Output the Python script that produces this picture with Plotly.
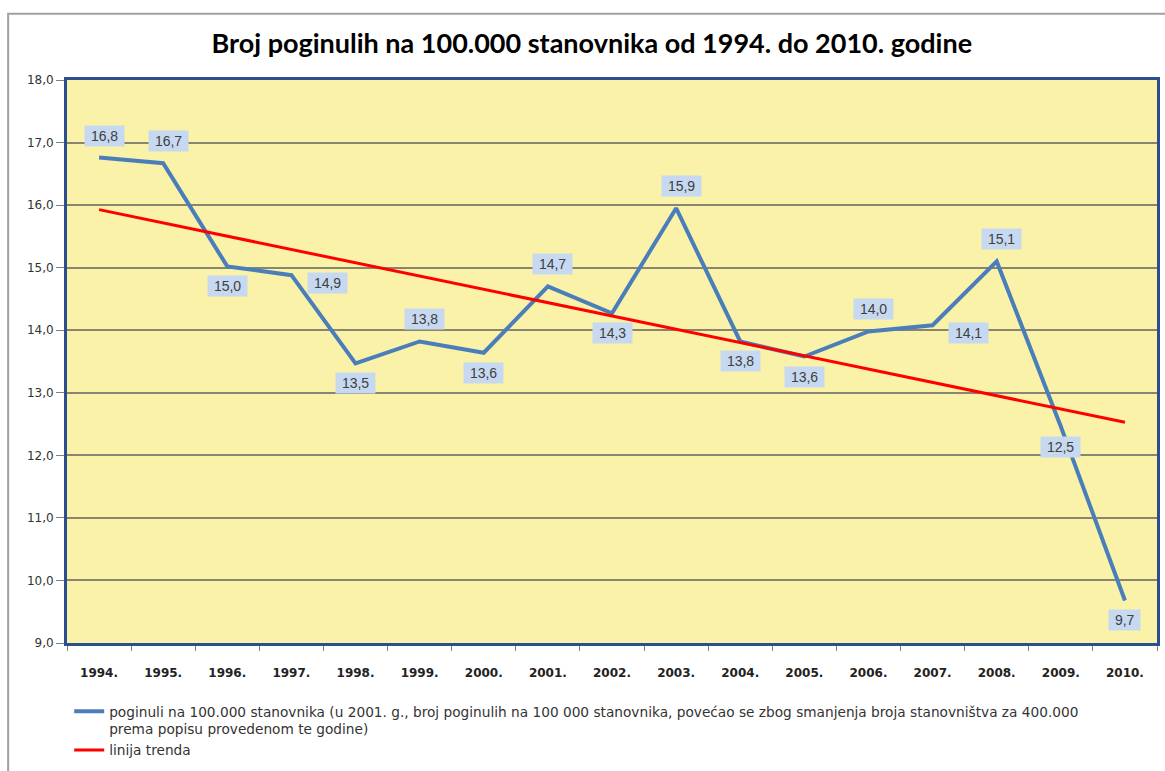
import numpy as np
import plotly.graph_objects as go

years = ["1994.", "1995.", "1996.", "1997.", "1998.", "1999.", "2000.", "2001.", "2002.",
         "2003.", "2004.", "2005.", "2006.", "2007.", "2008.", "2009.", "2010."]
values = [16.76, 16.67, 15.02, 14.88, 13.47, 13.82, 13.64, 14.70, 14.27,
          15.95, 13.82, 13.58, 13.98, 14.08, 15.10, 12.46, 9.68]
label_pos = ["top", "top", "bottom", "right", "bottom", "top", "bottom", "top", "bottom",
             "top", "bottom", "bottom", "top", "right", "top", "bottom", "bottom"]

series_name = ("poginuli na 100.000 stanovnika (u 2001. g., broj poginulih na 100 000 stanovnika, "
               "povećao se zbog smanjenja broja stanovništva za 400.000<br>prema popisu provedenom te godine)")
trend_name = "linija trenda"

idx = np.arange(len(values))
slope, intercept = np.polyfit(idx, values, 1)
trend = slope * idx + intercept

fig = go.Figure()
fig.add_trace(go.Scatter(x=years, y=values, mode="lines", name=series_name,
                         line=dict(color="#4A7EBB", width=4)))
fig.add_trace(go.Scatter(x=years, y=trend, mode="lines", name=trend_name,
                         line=dict(color="#FF0000", width=3)))

for i, (v, pos) in enumerate(zip(values, label_pos)):
    txt = f"{v:.1f}".replace(".", ",")
    xs, ys = 0, 0
    if pos == "top":
        xs, ys = 5, 22
    elif pos == "bottom":
        xs, ys = 0, -20
    else:
        xs, ys = 36, -8
    fig.add_annotation(x=int(i), y=float(v), xref="x", yref="y",
                       text=f"&nbsp;{txt}&nbsp;", showarrow=False,
                       xshift=xs, yshift=ys, bgcolor="#C6D9F1", borderpad=2,
                       font=dict(family="Liberation Sans, Arial", size=14, color="#404040"))

# outer chart border
fig.add_shape(type="rect", xref="paper", yref="paper",
              x0=-0.0540, x1=1.2, y0=-0.5, y1=1.1178,
              line=dict(color="#A0A0A0", width=2), fillcolor="rgba(0,0,0,0)", layer="below")

fig.update_layout(
    width=1165, height=771,
    margin=dict(l=67, r=5, t=80, b=128),
    paper_bgcolor="white",
    plot_bgcolor="#FAF2A8",
    title=dict(text="<b>Broj poginulih na 100.000 stanovnika od 1994. do 2010. godine</b>",
               x=0.508, xanchor="center", y=0.944, yanchor="middle",
               font=dict(family="Lato, Open Sans, sans-serif", size=27, color="#000000")),
    showlegend=True,
    legend=dict(x=0.002, y=-0.094, xanchor="left", yanchor="top", valign="top",
                font=dict(family="DejaVu Sans", size=13.7, color="#333333"),
                bgcolor="rgba(0,0,0,0)", itemwidth=30),
    xaxis=dict(type="category", range=[-0.5, 16.5], tickson="boundaries",
               ticks="outside", ticklen=5, tickcolor="#808080",
               showgrid=False, showline=True, linecolor="#2E4F8F", linewidth=3, mirror=True,
               tickfont=dict(family="DejaVu Sans", size=12, color="#222222", weight="bold"),
               ticklabelstandoff=17),
    yaxis=dict(range=[9, 18], dtick=1, tickformat=".1f",
               ticks="outside", ticklen=8, tickcolor="#808080",
               showgrid=True, gridcolor="#8A8570", gridwidth=2,
               showline=True, linecolor="#2E4F8F", linewidth=3, mirror=True,
               zeroline=False,
               tickfont=dict(family="DejaVu Sans", size=12, color="#333333")),
    separators=",.",
)

fig.write_html("out.html", config={"displayModeBar": False},
               post_script="document.body.style.margin='0';")
